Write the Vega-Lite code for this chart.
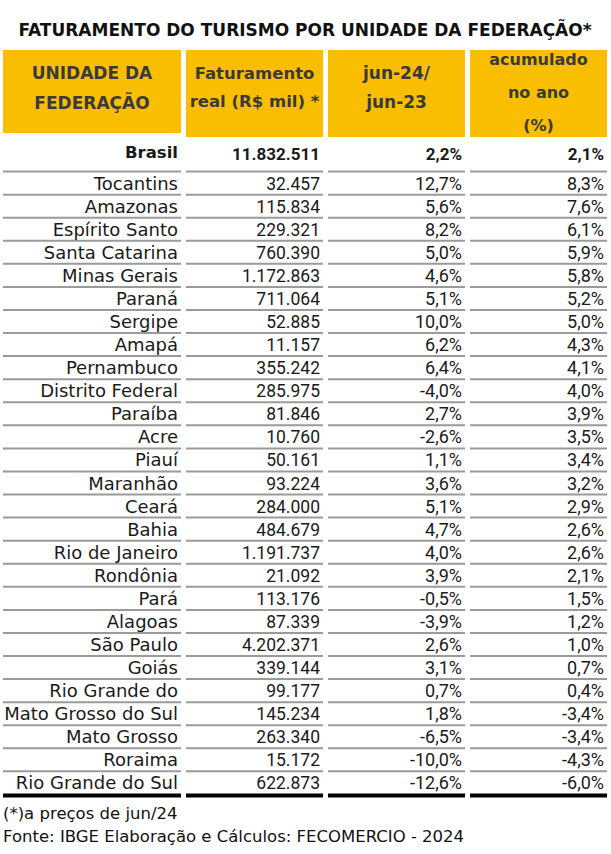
{
  "$schema": "https://vega.github.io/schema/vega-lite/v6.json",
  "background": "white",
  "padding": {"left": 1, "top": 22, "right": 0, "bottom": 0},
  "config": {
    "view": {"stroke": null},
    "locale": {"number": {"decimal": ",", "thousands": ".", "grouping": [3], "currency": ["R$", ""], "minus": "-"}},
    "title": {"font": "DejaVu Sans", "color": "#111111"}
  },
  "title": {"text": "FATURAMENTO DO TURISMO POR UNIDADE DA FEDERAÇÃO*", "fontSize": 17, "fontWeight": "bold", "anchor": "middle", "offset": 10},
  "datasets": {
    "header": [
      {"col": "uf", "label": "UNIDADE DA\nFEDERAÇÃO"},
      {"col": "fat", "label": "Faturamento\nreal (R$ mil) *"},
      {"col": "var", "label": "jun-24/\njun-23"},
      {"col": "acum", "label": "acumulado\nno ano\n(%)"}
    ],
    "rows": [
      {"rank": 0, "uf": "Brasil", "fat": 11832511, "var": 0.022, "acum": 0.021},
      {"rank": 1, "uf": "Tocantins", "fat": 32457, "var": 0.127, "acum": 0.083},
      {"rank": 2, "uf": "Amazonas", "fat": 115834, "var": 0.056, "acum": 0.076},
      {"rank": 3, "uf": "Espírito Santo", "fat": 229321, "var": 0.082, "acum": 0.061},
      {"rank": 4, "uf": "Santa Catarina", "fat": 760390, "var": 0.050, "acum": 0.059},
      {"rank": 5, "uf": "Minas Gerais", "fat": 1172863, "var": 0.046, "acum": 0.058},
      {"rank": 6, "uf": "Paraná", "fat": 711064, "var": 0.051, "acum": 0.052},
      {"rank": 7, "uf": "Sergipe", "fat": 52885, "var": 0.100, "acum": 0.050},
      {"rank": 8, "uf": "Amapá", "fat": 11157, "var": 0.062, "acum": 0.043},
      {"rank": 9, "uf": "Pernambuco", "fat": 355242, "var": 0.064, "acum": 0.041},
      {"rank": 10, "uf": "Distrito Federal", "fat": 285975, "var": -0.040, "acum": 0.040},
      {"rank": 11, "uf": "Paraíba", "fat": 81846, "var": 0.027, "acum": 0.039},
      {"rank": 12, "uf": "Acre", "fat": 10760, "var": -0.026, "acum": 0.035},
      {"rank": 13, "uf": "Piauí", "fat": 50161, "var": 0.011, "acum": 0.034},
      {"rank": 14, "uf": "Maranhão", "fat": 93224, "var": 0.036, "acum": 0.032},
      {"rank": 15, "uf": "Ceará", "fat": 284000, "var": 0.051, "acum": 0.029},
      {"rank": 16, "uf": "Bahia", "fat": 484679, "var": 0.047, "acum": 0.026},
      {"rank": 17, "uf": "Rio de Janeiro", "fat": 1191737, "var": 0.040, "acum": 0.026},
      {"rank": 18, "uf": "Rondônia", "fat": 21092, "var": 0.039, "acum": 0.021},
      {"rank": 19, "uf": "Pará", "fat": 113176, "var": -0.005, "acum": 0.015},
      {"rank": 20, "uf": "Alagoas", "fat": 87339, "var": -0.039, "acum": 0.012},
      {"rank": 21, "uf": "São Paulo", "fat": 4202371, "var": 0.026, "acum": 0.010},
      {"rank": 22, "uf": "Goiás", "fat": 339144, "var": 0.031, "acum": 0.007},
      {"rank": 23, "uf": "Rio Grande do", "fat": 99177, "var": 0.007, "acum": 0.004},
      {"rank": 24, "uf": "Mato Grosso do Sul", "fat": 145234, "var": 0.018, "acum": -0.034},
      {"rank": 25, "uf": "Mato Grosso", "fat": 263340, "var": -0.065, "acum": -0.034},
      {"rank": 26, "uf": "Roraima", "fat": 15172, "var": -0.100, "acum": -0.043},
      {"rank": 27, "uf": "Rio Grande do Sul", "fat": 622873, "var": -0.126, "acum": -0.060}
    ]
  },
  "spacing": 0,
  "vconcat": [
    {
      "spacing": 5,
      "bounds": "flush",
      "hconcat": [
        {
          "width": 178, "height": 83,
          "data": {"name": "header"},
          "transform": [{"filter": "datum.col == 'uf'"}],
          "encoding": {"x": {"field": "col", "type": "nominal", "axis": null, "scale": {"type": "band", "paddingInner": 0, "paddingOuter": 0}}},
          "layer": [
            {"mark": {"type": "bar", "color": "#F9BE00", "width": {"band": 1}}},
            {"mark": {"type": "text", "font": "DejaVu Sans", "fontWeight": "bold", "fontSize": 17, "color": "#3a3a3a", "lineBreak": "\n", "lineHeight": 30, "baseline": "middle", "dy": -17.5}, "encoding": {"text": {"field": "label"}}}
          ]
        },
        {
          "width": 137, "height": 87,
          "data": {"name": "header"},
          "transform": [{"filter": "datum.col == 'fat'"}],
          "encoding": {"x": {"field": "col", "type": "nominal", "axis": null, "scale": {"type": "band", "paddingInner": 0, "paddingOuter": 0}}},
          "layer": [
            {"mark": {"type": "bar", "color": "#F9BE00", "width": {"band": 1}}},
            {"mark": {"type": "text", "font": "DejaVu Sans", "fontWeight": "bold", "fontSize": 16.5, "color": "#3a3a3a", "lineBreak": "\n", "lineHeight": 28, "baseline": "middle", "dy": -19.5}, "encoding": {"text": {"field": "label"}}}
          ]
        },
        {
          "width": 137, "height": 87,
          "data": {"name": "header"},
          "transform": [{"filter": "datum.col == 'var'"}],
          "encoding": {"x": {"field": "col", "type": "nominal", "axis": null, "scale": {"type": "band", "paddingInner": 0, "paddingOuter": 0}}},
          "layer": [
            {"mark": {"type": "bar", "color": "#F9BE00", "width": {"band": 1}}},
            {"mark": {"type": "text", "font": "DejaVu Sans", "fontWeight": "bold", "fontSize": 17, "color": "#3a3a3a", "lineBreak": "\n", "lineHeight": 29, "baseline": "middle", "dy": -19.5}, "encoding": {"text": {"field": "label"}}}
          ]
        },
        {
          "width": 137, "height": 87,
          "data": {"name": "header"},
          "transform": [{"filter": "datum.col == 'acum'"}],
          "encoding": {"x": {"field": "col", "type": "nominal", "axis": null, "scale": {"type": "band", "paddingInner": 0, "paddingOuter": 0}}},
          "layer": [
            {"mark": {"type": "bar", "color": "#F9BE00", "width": {"band": 1}}},
            {"mark": {"type": "text", "font": "DejaVu Sans", "fontWeight": "bold", "fontSize": 16, "color": "#3a3a3a", "lineBreak": "\n", "lineHeight": 33, "baseline": "middle", "dy": -33.5}, "encoding": {"text": {"field": "label"}}}
          ]
        }
      ]
    },
    {
      "spacing": 5,
      "bounds": "flush",
      "title": {"text": ["(*)a preços de jun/24", "Fonte: IBGE Elaboração e Cálculos: FECOMERCIO - 2024"], "orient": "bottom", "anchor": "start", "fontSize": 16.5, "fontWeight": "normal", "lineHeight": 23, "offset": 0, "dx": 2},
      "data": {"name": "rows"},
      "hconcat": [
        {
          "width": 178, "height": 669,
          "transform": [{"fold": ["uf"], "as": ["col", "value"]}],
          "encoding": {
            "x": {"field": "col", "type": "nominal", "axis": null, "bandPosition": 1, "scale": {"type": "band", "paddingInner": 0, "paddingOuter": 0}},
            "y": {"field": "rank", "type": "quantitative", "axis": null, "scale": {"domain": [-1, 28], "reverse": true, "nice": false, "zero": false}}
          },
          "layer": [
            {"transform": [{"filter": "datum.rank < 27"}], "mark": {"type": "rule", "color": "#9a9a9a", "strokeWidth": 2, "yOffset": 11.5}, "encoding": {"x": null}},
            {"transform": [{"filter": "datum.rank == 27"}], "mark": {"type": "rule", "color": "#000000", "strokeWidth": 4, "yOffset": 12.5}, "encoding": {"x": null}},
            {"transform": [{"filter": "datum.rank == 0"}], "mark": {"type": "text", "align": "right", "baseline": "middle", "font": "DejaVu Sans", "fontWeight": "bold", "fontSize": 16.5, "color": "#1a1a1a", "yOffset": -7, "dx": -3}, "encoding": {"text": {"field": "value"}}},
            {"transform": [{"filter": "datum.rank > 0"}], "mark": {"type": "text", "align": "right", "baseline": "middle", "font": "DejaVu Sans", "fontSize": 18, "color": "#1a1a1a", "dx": -3, "dy": 1.5}, "encoding": {"text": {"field": "value"}}}
          ]
        },
        {
          "width": 137, "height": 669,
          "transform": [{"fold": ["fat"], "as": ["col", "value"]}],
          "encoding": {
            "x": {"field": "col", "type": "nominal", "axis": null, "bandPosition": 1, "scale": {"type": "band", "paddingInner": 0, "paddingOuter": 0}},
            "y": {"field": "rank", "type": "quantitative", "axis": null, "scale": {"domain": [-1, 28], "reverse": true, "nice": false, "zero": false}}
          },
          "layer": [
            {"transform": [{"filter": "datum.rank < 27"}], "mark": {"type": "rule", "color": "#9a9a9a", "strokeWidth": 2, "yOffset": 11.5}, "encoding": {"x": null}},
            {"transform": [{"filter": "datum.rank == 27"}], "mark": {"type": "rule", "color": "#000000", "strokeWidth": 4, "yOffset": 12.5}, "encoding": {"x": null}},
            {"transform": [{"filter": "datum.rank == 0"}], "mark": {"type": "text", "align": "right", "baseline": "middle", "font": "Roboto", "fontWeight": "bold", "fontSize": 17, "color": "#1a1a1a", "yOffset": -5, "dx": -3}, "encoding": {"text": {"field": "value", "type": "quantitative", "format": ",d"}}},
            {"transform": [{"filter": "datum.rank > 0"}], "mark": {"type": "text", "align": "right", "baseline": "middle", "font": "Roboto", "fontSize": 17.5, "color": "#1a1a1a", "dx": -3, "dy": 1.5}, "encoding": {"text": {"field": "value", "type": "quantitative", "format": ",d"}}}
          ]
        },
        {
          "width": 137, "height": 669,
          "transform": [{"fold": ["var"], "as": ["col", "value"]}],
          "encoding": {
            "x": {"field": "col", "type": "nominal", "axis": null, "bandPosition": 1, "scale": {"type": "band", "paddingInner": 0, "paddingOuter": 0}},
            "y": {"field": "rank", "type": "quantitative", "axis": null, "scale": {"domain": [-1, 28], "reverse": true, "nice": false, "zero": false}}
          },
          "layer": [
            {"transform": [{"filter": "datum.rank < 27"}], "mark": {"type": "rule", "color": "#9a9a9a", "strokeWidth": 2, "yOffset": 11.5}, "encoding": {"x": null}},
            {"transform": [{"filter": "datum.rank == 27"}], "mark": {"type": "rule", "color": "#000000", "strokeWidth": 4, "yOffset": 12.5}, "encoding": {"x": null}},
            {"transform": [{"filter": "datum.rank == 0"}], "mark": {"type": "text", "align": "right", "baseline": "middle", "font": "Roboto", "fontWeight": "bold", "fontSize": 17, "color": "#1a1a1a", "yOffset": -5, "dx": -3}, "encoding": {"text": {"field": "value", "type": "quantitative", "format": ".1%"}}},
            {"transform": [{"filter": "datum.rank > 0"}], "mark": {"type": "text", "align": "right", "baseline": "middle", "font": "Roboto", "fontSize": 18, "color": "#1a1a1a", "dx": -3, "dy": 1.5}, "encoding": {"text": {"field": "value", "type": "quantitative", "format": ".1%"}}}
          ]
        },
        {
          "width": 137, "height": 669,
          "transform": [{"fold": ["acum"], "as": ["col", "value"]}],
          "encoding": {
            "x": {"field": "col", "type": "nominal", "axis": null, "bandPosition": 1, "scale": {"type": "band", "paddingInner": 0, "paddingOuter": 0}},
            "y": {"field": "rank", "type": "quantitative", "axis": null, "scale": {"domain": [-1, 28], "reverse": true, "nice": false, "zero": false}}
          },
          "layer": [
            {"transform": [{"filter": "datum.rank < 27"}], "mark": {"type": "rule", "color": "#9a9a9a", "strokeWidth": 2, "yOffset": 11.5}, "encoding": {"x": null}},
            {"transform": [{"filter": "datum.rank == 27"}], "mark": {"type": "rule", "color": "#000000", "strokeWidth": 4, "yOffset": 12.5}, "encoding": {"x": null}},
            {"transform": [{"filter": "datum.rank == 0"}], "mark": {"type": "text", "align": "right", "baseline": "middle", "font": "Roboto", "fontWeight": "bold", "fontSize": 17, "color": "#1a1a1a", "yOffset": -5, "dx": -3}, "encoding": {"text": {"field": "value", "type": "quantitative", "format": ".1%"}}},
            {"transform": [{"filter": "datum.rank > 0"}], "mark": {"type": "text", "align": "right", "baseline": "middle", "font": "Roboto", "fontSize": 18, "color": "#1a1a1a", "dx": -3, "dy": 1.5}, "encoding": {"text": {"field": "value", "type": "quantitative", "format": ".1%"}}}
          ]
        }
      ]
    }
  ]
}
